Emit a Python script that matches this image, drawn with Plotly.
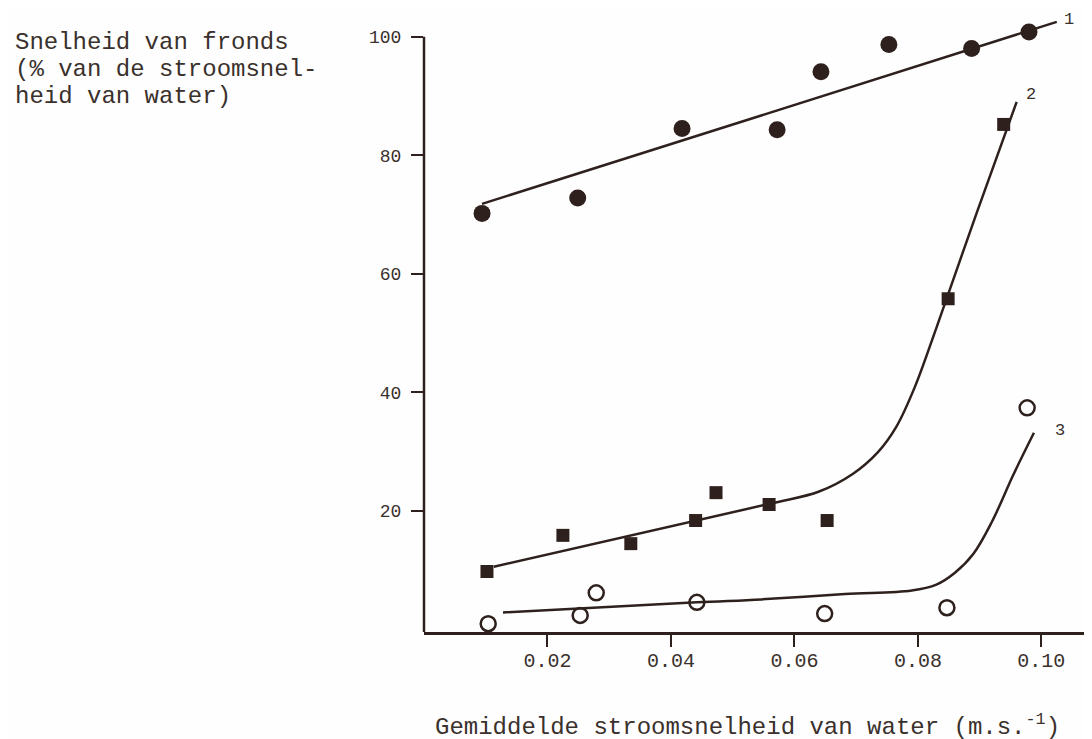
import plotly.graph_objects as go

# Series 1 (filled circles)
s1_x = [0.0094, 0.0249, 0.0418, 0.0572, 0.0643, 0.0753, 0.0887, 0.0980]
s1_y = [70.2, 72.8, 84.5, 84.3, 94.1, 98.7, 98.0, 100.8]
line1_x = [0.0094, 0.1025]
line1_y = [71.8, 102.5]

# Series 2 (filled squares)
s2_x = [0.0102, 0.0225, 0.0335, 0.0440, 0.0473, 0.0559, 0.0653, 0.0849, 0.0939]
s2_y = [9.8, 15.9, 14.5, 18.4, 23.1, 21.1, 18.4, 55.8, 85.2]
line2_x = [0.0113, 0.0559, 0.0640, 0.0695, 0.0735, 0.0765, 0.0795, 0.0830, 0.0895, 0.0960]
line2_y = [10.6, 21.2, 23.3, 26.3, 29.9, 34.2, 40.9, 50.9, 70.2, 89.0]

# Series 3 (open circles)
s3_x = [0.0104, 0.0253, 0.0279, 0.0442, 0.0649, 0.0847, 0.0977]
s3_y = [1.0, 2.4, 6.2, 4.6, 2.7, 3.7, 37.4]
line3_x = [0.0128, 0.0442, 0.0547, 0.0682, 0.0790, 0.0830, 0.0860, 0.0890, 0.0920, 0.0955, 0.0988]
line3_y = [2.9, 4.6, 5.1, 6.0, 6.6, 7.6, 9.6, 12.8, 18.2, 26.2, 33.2]

y_ticks = [20, 40, 60, 80, 100]
y_ticktext = ["20", "40", "60", "80", "100"]
x_ticks = [0.02, 0.04, 0.06, 0.08, 0.10]
x_ticktext = ["0.02", "0.04", "0.06", "0.08", "0.10"]

y_title_lines = ["Snelheid van fronds", "(% van de stroomsnel-", "heid van water)"]
x_title = "Gemiddelde stroomsnelheid van water (m.s.<sup>-1</sup>)"
curve_labels = ["1", "2", "3"]

INK = "#2e211d"
TXT = "#3a302c"
FONT = "Liberation Mono, Courier New, monospace"

Y_RANGE = [-0.4, 104.5]
X_RANGE = [0, 0.1095]

fig = go.Figure()

fig.add_trace(go.Scatter(x=line1_x, y=line1_y, mode="lines",
                         line=dict(color=INK, width=2.5), cliponaxis=False, showlegend=False))
fig.add_trace(go.Scatter(x=line2_x, y=line2_y, mode="lines", line_shape="spline",
                         line=dict(color=INK, width=2.5, smoothing=1.0), cliponaxis=False, showlegend=False))
fig.add_trace(go.Scatter(x=line3_x, y=line3_y, mode="lines", line_shape="spline",
                         line=dict(color=INK, width=2.5, smoothing=1.0), cliponaxis=False, showlegend=False))

fig.add_trace(go.Scatter(x=s1_x, y=s1_y, mode="markers",
                         marker=dict(symbol="circle", size=17, color=INK, line=dict(width=0)),
                         cliponaxis=False, showlegend=False))
fig.add_trace(go.Scatter(x=s2_x, y=s2_y, mode="markers",
                         marker=dict(symbol="square", size=13, color=INK, line=dict(width=0)),
                         cliponaxis=False, showlegend=False))
fig.add_trace(go.Scatter(x=s3_x, y=s3_y, mode="markers",
                         marker=dict(symbol="circle-open", size=15, color=INK, line=dict(width=2.5)),
                         cliponaxis=False, showlegend=False))

annotations = []
ends = [(line1_x[-1], line1_y[-1], 12, 2), (line2_x[-1], line2_y[-1], 14, 7), (line3_x[-1], line3_y[-1], 26, 2)]
for lab, (ex, ey, dx, dy) in zip(curve_labels, ends):
    annotations.append(dict(x=ex, y=ey, xref="x", yref="y", text=lab, showarrow=False,
                            xshift=dx, yshift=dy, font=dict(family=FONT, size=17, color=TXT)))

# y title (three lines), placed relative to the 100 tick
top_frac = (100 - Y_RANGE[0]) / (Y_RANGE[1] - Y_RANGE[0])
for i, t in enumerate(y_title_lines):
    annotations.append(dict(x=0, y=top_frac, xref="paper", yref="paper", text=t, showarrow=False,
                            xanchor="left", yanchor="middle", xshift=-411, yshift=-6 - 27 * i,
                            font=dict(family=FONT, size=24, color=TXT)))

annotations.append(dict(x=0.5, y=0, xref="paper", yref="paper", text=x_title, showarrow=False,
                        xanchor="center", yanchor="middle", xshift=-15, yshift=-93,
                        font=dict(family=FONT, size=24, color=TXT)))

shapes = [dict(type="line", xref="paper", yref="paper", x0=0, x1=0, y0=0, y1=top_frac,
               line=dict(color=INK, width=2.5))]

fig.update_layout(
    width=1092, height=739,
    margin=dict(l=416, r=0, t=2, b=115),
    paper_bgcolor="#fefefe", plot_bgcolor="#fefefe",
    annotations=annotations, shapes=shapes,
    showlegend=False,
)
fig.update_xaxes(range=X_RANGE, showgrid=False, zeroline=False, showline=True,
                 linecolor=INK, linewidth=2.5, ticks="outside", ticklen=12, tickwidth=2,
                 tickcolor=INK, tickvals=x_ticks, ticktext=x_ticktext,
                 tickfont=dict(family=FONT, size=20, color=TXT), ticklabelstandoff=-4)
fig.update_yaxes(range=Y_RANGE, showgrid=False, zeroline=False, showline=False,
                 ticks="outside", ticklen=12, tickwidth=2,
                 tickcolor=INK, tickvals=y_ticks, ticktext=y_ticktext,
                 tickfont=dict(family=FONT, size=18, color=TXT), ticklabelstandoff=6)

fig.write_html("out.html")
